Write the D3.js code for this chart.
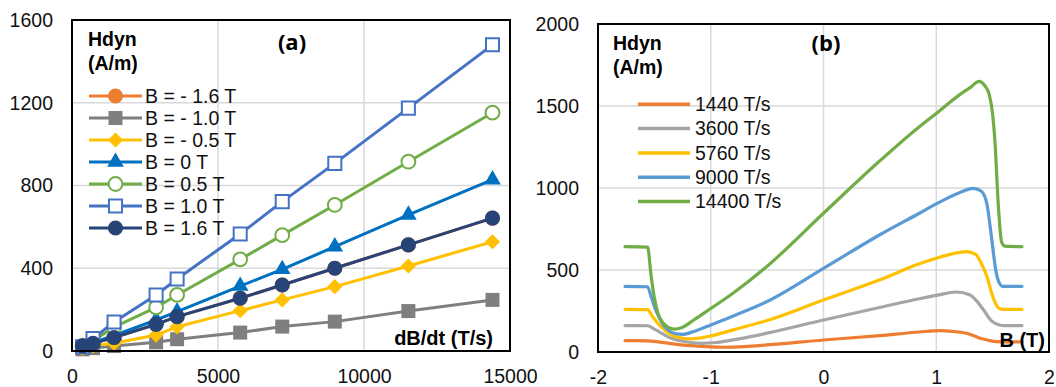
<!DOCTYPE html>
<html>
<head>
<meta charset="utf-8">
<script src="https://cdn.jsdelivr.net/npm/d3@7"></script>
<style>
  html, body { margin: 0; padding: 0; background: #fff; }
  svg { display: block; font-family: "Liberation Sans", Arial, sans-serif; }
</style>
</head>
<body>
<svg id="chart" width="1056" height="387"></svg>
<script>
// ---------- Panel (a) data ----------
const rateA = [360, 720, 1440, 2880, 3600, 5760, 7200, 9000, 11520, 14400];
const hBm16 = [25, 37, 65, 129, 166, 255, 319, 400, 513, 642];
const hBm10 = [8, 14, 24, 42, 57, 89, 118, 142, 193, 247];
const hBm05 = [12, 25, 37, 77, 117, 195, 247, 311, 411, 528];
const hB0   = [20, 40, 75, 150, 190, 314, 395, 504, 658, 828];
const hB05  = [22, 50, 115, 211, 271, 443, 560, 706, 915, 1152];
const hB10  = [21, 60, 140, 271, 348, 566, 722, 907, 1174, 1480];
const hB16  = [25, 37, 65, 129, 166, 255, 319, 400, 513, 642];
const labelsA = ["B = - 1.6 T", "B = - 1.0 T", "B = - 0.5 T", "B = 0 T", "B = 0.5 T", "B = 1.0 T", "B = 1.6 T"];
const xTicksA = [0, 5000, 10000, 15000];
const yTicksA = [0, 400, 800, 1200, 1600];

// ---------- Panel (b) data ----------
const b1440 = [-1.76, -1.56, -1.45, -1.26, -1.05, -0.88, -0.7, -0.5, 0, 0.5, 0.85, 1.03, 1.15, 1.27, 1.33, 1.39, 1.46, 1.53, 1.6, 1.76];
const h1440 = [69, 68, 60, 43, 33, 29, 33, 43, 73, 100, 122, 130, 125, 114, 100, 84, 72, 63, 62, 62];
const b3600 = [-1.76, -1.56, -1.50, -1.45, -1.40, -1.35, -1.28, -1.18, -1.08, -0.95, -0.75, -0.5, 0, 0.5, 0.85, 1.0, 1.18, 1.3, 1.36, 1.42, 1.49, 1.56, 1.6, 1.76];
const h3600 = [161, 160, 140, 120, 100, 84, 70, 58, 53, 58, 80, 115, 195, 272, 325, 345, 366, 348, 310, 256, 190, 165, 161, 161];
const b5760 = [-1.76, -1.56, -1.52, -1.47, -1.41, -1.35, -1.28, -1.2, -1.1, -1.0, -0.8, -0.5, 0, 0.5, 0.85, 1.0, 1.15, 1.27, 1.35, 1.40, 1.45, 1.50, 1.55, 1.59, 1.76];
const h5760 = [260, 258, 220, 175, 135, 104, 88, 80, 85, 98, 135, 192, 317, 440, 538, 572, 600, 612, 595, 540, 459, 340, 270, 260, 260];
const b9000 = [-1.76, -1.56, -1.53, -1.49, -1.45, -1.41, -1.36, -1.30, -1.25, -1.15, -1.0, -0.8, -0.5, 0, 0.5, 0.85, 1.0, 1.2, 1.33, 1.40, 1.45, 1.49, 1.53, 1.56, 1.59, 1.76];
const h9000 = [400, 398, 340, 260, 200, 155, 125, 110, 108, 125, 165, 220, 308, 510, 715, 846, 903, 970, 998, 980, 900, 700, 490, 420, 400, 400];
const b14400 = [-1.76, -1.56, -1.53, -1.50, -1.47, -1.42, -1.36, -1.32, -1.26, -1.15, -1.0, -0.8, -0.5, 0, 0.5, 0.85, 1.0, 1.2, 1.3, 1.38, 1.43, 1.47, 1.50, 1.52, 1.55, 1.58, 1.61, 1.76];
const h14400 = [642, 640, 470, 330, 240, 175, 145, 140, 148, 195, 265, 360, 523, 846, 1166, 1374, 1455, 1565, 1612, 1650, 1625, 1570, 1450, 1290, 900, 670, 645, 642];
const labelsB = ["1440 T/s", "3600 T/s", "5760 T/s", "9000 T/s", "14400 T/s"];
const xTicksB = [-2, -1, 0, 1, 2];
const yTicksB = [0, 500, 1000, 1500, 2000];

// ---------- styles ----------
const FS = 19.5;
const GRID = "#d9d9d9";
const seriesA = [
  { h: hBm16, color: "#ED7D31", sym: "circle", open: false },
  { h: hBm10, color: "#7F7F7F", sym: "square", open: false },
  { h: hBm05, color: "#FFC000", sym: "diamond", open: false },
  { h: hB0,   color: "#0070C0", sym: "triangle", open: false },
  { h: hB05,  color: "#70AD47", sym: "circle", open: true },
  { h: hB10,  color: "#4472C4", sym: "square", open: true },
  { h: hB16,  color: "#264478", sym: "circle", open: false }
];
const seriesB = [
  { b: b1440, h: h1440, color: "#ED7D31" },
  { b: b3600, h: h3600, color: "#A5A5A5" },
  { b: b5760, h: h5760, color: "#FFC000" },
  { b: b9000, h: h9000, color: "#5B9BD5" },
  { b: b14400, h: h14400, color: "#70AD47" }
];

const svg = d3.select("#chart");
const plainFmt = d => String(d);

function symbolPath(kind, open) {
  if (kind === "circle") return d3.symbol(d3.symbolCircle, open ? 150 : 180)();
  if (kind === "square") return d3.symbol(d3.symbolSquare, open ? 170 : 196)();
  if (kind === "triangle") return d3.symbol(d3.symbolTriangle, 120)();
  if (kind === "diamond") return d3.symbol(d3.symbolSquare, 115)();
}
function drawMarker(g, kind, open, color, x, y) {
  g.append("path")
    .attr("d", symbolPath(kind, open))
    .attr("transform", `translate(${x},${y})` + (kind === "diamond" ? " rotate(45)" : ""))
    .attr("fill", open ? "#fff" : color)
    .attr("stroke", open ? color : "none")
    .attr("stroke-width", open ? 2 : 0);
}

function panelFrame(x, y, xTicks, yTicks) {
  const g = svg.append("g");
  g.selectAll(".vg").data(xTicks).enter().append("line")
    .attr("x1", d => x(d)).attr("x2", d => x(d))
    .attr("y1", y.range()[0]).attr("y2", y.range()[1])
    .attr("stroke", GRID).attr("stroke-width", 1.5);
  g.selectAll(".hg").data(yTicks).enter().append("line")
    .attr("y1", d => y(d)).attr("y2", d => y(d))
    .attr("x1", x.range()[0]).attr("x2", x.range()[1])
    .attr("stroke", GRID).attr("stroke-width", 1.5);
  const ax = g.append("g").attr("transform", `translate(0,${y.range()[0]})`)
    .call(d3.axisBottom(x).tickValues(xTicks).tickSize(0).tickPadding(18).tickFormat(plainFmt));
  const ay = g.append("g").attr("transform", `translate(${x.range()[0]},0)`)
    .call(d3.axisLeft(y).tickValues(yTicks).tickSize(0).tickPadding(19).tickFormat(plainFmt));
  [ax, ay].forEach(a => {
    a.select(".domain").remove();
    a.selectAll("text").attr("font-size", FS).attr("fill", "#111")
      .attr("font-family", '"Liberation Sans", Arial, sans-serif');
  });
  return g;
}
function panelBorder(x, y) {
  svg.append("rect")
    .attr("x", x.range()[0]).attr("y", y.range()[1])
    .attr("width", x.range()[1] - x.range()[0])
    .attr("height", y.range()[0] - y.range()[1])
    .attr("fill", "none").attr("stroke", "#000").attr("stroke-width", 2);
}

// ================= Panel (a) =================
const xA = d3.scaleLinear().domain([0, 15000]).range([72, 510]);
const yA = d3.scaleLinear().domain([0, 1600]).range([351, 20]);
panelFrame(xA, yA, xTicksA, yTicksA);

const gA = svg.append("g");
const lineA = d3.line().x(d => xA(d[0])).y(d => yA(d[1]));
seriesA.forEach(s => {
  const pts = rateA.map((r, i) => [r, s.h[i]]);
  gA.append("path").attr("d", lineA(pts))
    .attr("fill", "none").attr("stroke", s.color).attr("stroke-width", 3)
    .attr("stroke-linejoin", "round");
  pts.forEach(p => drawMarker(gA, s.sym, s.open, s.color, xA(p[0]), yA(p[1])));
});
panelBorder(xA, yA);

const legA = svg.append("g");
seriesA.forEach((s, i) => {
  const cy = 96 + i * 22;
  legA.append("line").attr("x1", 89).attr("x2", 142).attr("y1", cy).attr("y2", cy)
    .attr("stroke", s.color).attr("stroke-width", 3);
  drawMarker(legA, s.sym, s.open, s.color, 115.5, cy);
  legA.append("text").attr("x", 145).attr("y", cy).attr("dy", "0.35em")
    .attr("font-size", FS).attr("fill", "#111").text(labelsA[i]);
});
legA.append("text").attr("x", 88).attr("y", 45.5).attr("font-size", FS).attr("font-weight", "bold").text("Hdyn");
legA.append("text").attr("x", 88).attr("y", 69.5).attr("font-size", FS).attr("font-weight", "bold").text("(A/m)");
svg.append("text").attr("x", 292).attr("y", 50).attr("text-anchor", "middle")
  .attr("font-size", 22).attr("font-weight", "bold").attr("font-family", '"Open Sans", sans-serif').text("(a)");
svg.append("text").attr("x", 493).attr("y", 345).attr("text-anchor", "end")
  .attr("font-size", FS + 0.5).attr("font-weight", "bold").text("dB/dt (T/s)");

// ================= Panel (b) =================
const xB = d3.scaleLinear().domain([-2, 2]).range([598, 1049]);
const yB = d3.scaleLinear().domain([0, 2000]).range([352, 24]);
panelFrame(xB, yB, xTicksB, yTicksB);

const gB = svg.append("g");
const lineB = d3.line().x(d => xB(d[0])).y(d => yB(d[1])).curve(d3.curveMonotoneX);
seriesB.forEach(s => {
  const pts = s.b.map((b, i) => [b, s.h[i]]);
  gB.append("path").attr("d", lineB(pts))
    .attr("fill", "none").attr("stroke", s.color).attr("stroke-width", 3.2)
    .attr("stroke-linejoin", "round").attr("stroke-linecap", "round");
});
panelBorder(xB, yB);

const legB = svg.append("g");
seriesB.forEach((s, i) => {
  const cy = 104.3 + i * 24.3;
  legB.append("line").attr("x1", 638).attr("x2", 690).attr("y1", cy).attr("y2", cy)
    .attr("stroke", s.color).attr("stroke-width", 3.5);
  legB.append("text").attr("x", 695).attr("y", cy).attr("dy", "0.35em")
    .attr("font-size", FS).attr("fill", "#111").text(labelsB[i]);
});
legB.append("text").attr("x", 613).attr("y", 50).attr("font-size", FS).attr("font-weight", "bold").text("Hdyn");
legB.append("text").attr("x", 613).attr("y", 74).attr("font-size", FS).attr("font-weight", "bold").text("(A/m)");
svg.append("text").attr("x", 826).attr("y", 51).attr("text-anchor", "middle")
  .attr("font-size", 22).attr("font-weight", "bold").attr("font-family", '"Open Sans", sans-serif').text("(b)");
svg.append("text").attr("x", 1045).attr("y", 347).attr("text-anchor", "end")
  .attr("font-size", FS + 0.5).attr("font-weight", "bold").text("B (T)");
</script>
</body>
</html>
